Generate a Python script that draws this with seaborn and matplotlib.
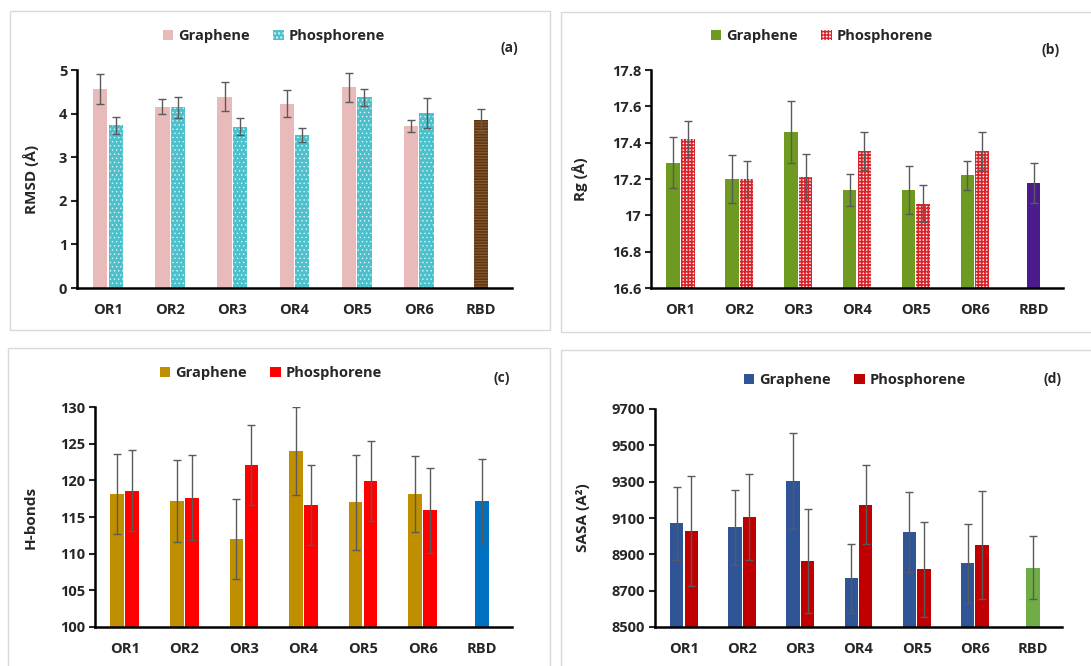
import numpy as np
import pandas as pd
import matplotlib
matplotlib.use("Agg")
import matplotlib.pyplot as plt
from matplotlib.patches import Patch, Rectangle
import seaborn as sns

# ---------------- data ----------------
systems = ["OR1", "OR2", "OR3", "OR4", "OR5", "OR6"]
all_labels = systems + ["RBD"]
sheets = ["Graphene", "Phosphorene"]

# (a) RMSD (Å)
rmsd_graphene = [4.56, 4.16, 4.39, 4.23, 4.60, 3.72]
rmsd_graphene_err = [0.35, 0.18, 0.33, 0.30, 0.33, 0.14]
rmsd_phosphorene = [3.73, 4.14, 3.70, 3.52, 4.37, 4.01]
rmsd_phosphorene_err = [0.19, 0.23, 0.20, 0.16, 0.20, 0.35]
rmsd_rbd, rmsd_rbd_err = 3.85, 0.25

# (b) Rg (Å)
rg_graphene = [17.29, 17.20, 17.46, 17.14, 17.14, 17.22]
rg_graphene_err = [0.14, 0.13, 0.17, 0.09, 0.13, 0.08]
rg_phosphorene = [17.42, 17.20, 17.21, 17.355, 17.065, 17.355]
rg_phosphorene_err = [0.10, 0.10, 0.13, 0.105, 0.10, 0.105]
rg_rbd, rg_rbd_err = 17.18, 0.11

# (c) H-bonds
hb_graphene = [118.1, 117.2, 112.0, 124.0, 117.0, 118.1]
hb_graphene_err = [5.45, 5.6, 5.4, 5.95, 6.5, 5.2]
hb_phosphorene = [118.6, 117.6, 122.1, 116.6, 119.9, 115.9]
hb_phosphorene_err = [5.55, 5.8, 5.5, 5.45, 5.4, 5.8]
hb_rbd, hb_rbd_err = 117.2, 5.7

# (d) SASA (A²)
sasa_graphene = [9070, 9048, 9303, 8767, 9022, 8850]
sasa_graphene_err = [203, 206, 265, 190, 220, 216]
sasa_phosphorene = [9027, 9105, 8864, 9174, 8818, 8950]
sasa_phosphorene_err = [302, 235, 287, 215, 261, 298]
sasa_rbd, sasa_rbd_err = 8827, 172

# ---------------- style ----------------
sns.set_style("white")
plt.rcParams["font.family"] = ["Open Sans", "DejaVu Sans"]
plt.rcParams["font.weight"] = "bold"
plt.rcParams["hatch.linewidth"] = 1.0

W, H = 1091, 666
fig = plt.figure(figsize=(W / 100, H / 100), dpi=100)


def px_axes(left, right, top, bottom):
    return fig.add_axes([left / W, 1 - bottom / H, (right - left) / W, (bottom - top) / H])


def set_hatch_lw(patch, lw):
    if hasattr(patch, "set_hatch_linewidth"):
        patch.set_hatch_linewidth(lw)
    else:
        patch._hatch_linewidth = lw


# light frames around each panel
for (x0, y0, x1, y1) in [(10, 11, 550, 330), (561, 12, 1100, 332),
                         (8, 348, 550, 680), (561, 350, 1100, 680)]:
    fig.patches.append(Rectangle((x0 / W, 1 - y1 / H), (x1 - x0) / W, (y1 - y0) / H,
                                 transform=fig.transFigure, fill=False,
                                 edgecolor="#d9d9d9", linewidth=1.0))


def panel(ax, g, g_err, p, p_err, rbd, rbd_err, styles, ylim, yticks, yticklabels,
          ylabel, ylabel_x, tag, tag_xy, legend_xy):
    df = pd.DataFrame({
        "system": systems * 2,
        "sheet": [sheets[0]] * len(systems) + [sheets[1]] * len(systems),
        "value": list(g) + list(p),
    })
    sns.barplot(data=df, x="system", y="value", hue="sheet", order=all_labels,
                hue_order=sheets, palette=[styles[0]["fc"], styles[1]["fc"]],
                width=0.5, gap=0.08, errorbar=None, legend=False, ax=ax,
                linewidth=0)
    sns.barplot(x=["RBD"], y=[rbd], order=all_labels, color=styles[2]["fc"],
                width=0.23, errorbar=None, ax=ax, linewidth=0)

    vals = [(g, g_err), (p, p_err), ([rbd], [rbd_err])]
    for ci, cont in enumerate(ax.containers[:3]):
        st = styles[ci]
        bars = sorted(cont.patches, key=lambda b: b.get_x())
        for b in bars:
            b.set_facecolor(st["fc"])
            b.set_linewidth(0)
            if st.get("hatch"):
                b.set_hatch(st["hatch"])
                b.set_edgecolor(st["hc"])
                set_hatch_lw(b, st.get("hlw", 1.0))
        xs = [b.get_x() + b.get_width() / 2 for b in bars]
        ax.errorbar(xs, vals[ci][0], yerr=vals[ci][1], fmt="none",
                    ecolor="#5a5a5a", elinewidth=1.0, capsize=2.6, capthick=1.0,
                    zorder=5)

    ax.set_xlim(-0.5, 6.5)
    ax.set_ylim(*ylim)
    ax.set_yticks(yticks)
    ax.set_yticklabels(yticklabels)
    ax.set_xlabel("")
    ax.set_ylabel(ylabel, fontsize=11, fontweight="bold")
    ax.yaxis.set_label_coords(ylabel_x, 0.5)
    sns.despine(ax=ax)
    for s in ("left", "bottom"):
        ax.spines[s].set_linewidth(1.8)
        ax.spines[s].set_color("black")
    ax.tick_params(axis="y", length=4, width=1.5, direction="out", left=True,
                   labelsize=10.5, pad=3)
    ax.tick_params(axis="x", length=0, labelsize=10.5, pad=11)
    for t in ax.get_xticklabels() + ax.get_yticklabels():
        t.set_fontweight("bold")

    handles = []
    for ci in range(2):
        st = styles[ci]
        h = Patch(facecolor=st["fc"], edgecolor=st["hc"] if st.get("hatch") else "none",
                  hatch=st.get("hatch"), linewidth=0, label=sheets[ci])
        handles.append(h)
    ax.legend(handles=handles, loc="center", ncol=2, frameon=False,
              bbox_to_anchor=(legend_xy[0] / W, 1 - legend_xy[1] / H),
              bbox_transform=fig.transFigure, handlelength=0.7,
              handleheight=0.7, handletextpad=0.35, columnspacing=1.6,
              prop={"weight": "bold", "size": 10.5})
    fig.text(tag_xy[0] / W, 1 - tag_xy[1] / H, tag, ha="center", va="center",
             fontsize=10, fontweight="bold")


# (a)
ax_a = px_axes(77, 512, 70, 288)
panel(ax_a, rmsd_graphene, rmsd_graphene_err, rmsd_phosphorene, rmsd_phosphorene_err,
      rmsd_rbd, rmsd_rbd_err,
      [{"fc": "#e8bab9"},
       {"fc": "#4cc0cb", "hatch": "....", "hc": "#dff5f7", "hlw": 0.5},
       {"fc": "#8c5a2c", "hatch": "------", "hc": "#5e3816", "hlw": 1.2}],
      (0, 5), [0, 1, 2, 3, 4, 5], ["0", "1", "2", "3", "4", "5"],
      "RMSD (Å)", -0.087, "(a)", (509, 48), (274, 36))

# (b)
ax_b = px_axes(651, 1063, 70, 288)
rg_ticks = [16.6, 16.8, 17.0, 17.2, 17.4, 17.6, 17.8]
panel(ax_b, rg_graphene, rg_graphene_err, rg_phosphorene, rg_phosphorene_err,
      rg_rbd, rg_rbd_err,
      [{"fc": "#6e9a22"},
       {"fc": "#fdf0f0", "hatch": "+++++", "hc": "#d8242a", "hlw": 1.2},
       {"fc": "#4a1b8c"}],
      (16.6, 17.8), rg_ticks, ["16.6", "16.8", "17", "17.2", "17.4", "17.6", "17.8"],
      "Rg (Å)", -0.153, "(b)", (1051, 50), (822, 36))

# (c)
ax_c = px_axes(95, 512, 407, 627)
panel(ax_c, hb_graphene, hb_graphene_err, hb_phosphorene, hb_phosphorene_err,
      hb_rbd, hb_rbd_err,
      [{"fc": "#bf8f00"}, {"fc": "#ff0000"}, {"fc": "#0070c0"}],
      (100, 130), [100, 105, 110, 115, 120, 125, 130],
      ["100", "105", "110", "115", "120", "125", "130"],
      "H-bonds", -0.137, "(c)", (502, 378), (271, 373))

# (d)
ax_d = px_axes(655, 1062, 409, 627)
panel(ax_d, sasa_graphene, sasa_graphene_err, sasa_phosphorene, sasa_phosphorene_err,
      sasa_rbd, sasa_rbd_err,
      [{"fc": "#2f5597"}, {"fc": "#c00000"}, {"fc": "#70ad47"}],
      (8500, 9700), [8500, 8700, 8900, 9100, 9300, 9500, 9700],
      ["8500", "8700", "8900", "9100", "9300", "9500", "9700"],
      "SASA (A²)", -0.16, "(d)", (1052, 379), (855, 380))

fig.savefig("out.png", dpi=100, facecolor="white")
